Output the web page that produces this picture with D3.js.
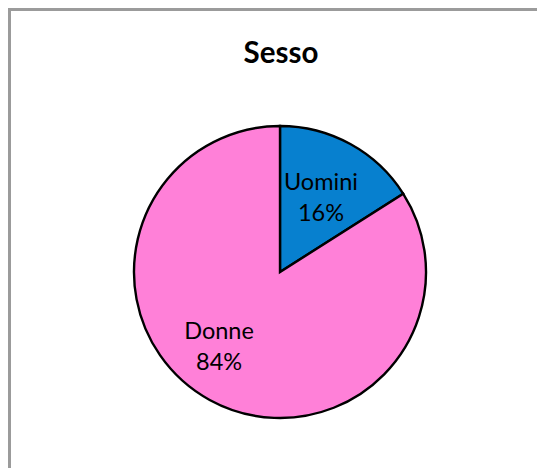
<!DOCTYPE html>
<html><head><meta charset="utf-8">
<script src="https://cdn.jsdelivr.net/npm/d3@7"></script>
<style>body{margin:0;background:#fff}svg{display:block}</style>
</head><body>
<script>
const title = "Sesso";
const categories = ["Uomini", "Donne"];
const values = [16, 84];
const colors = ["#0780CF", "#FF80D8"];

const W = 537, H = 468;
const svg = d3.select("body").append("svg").attr("width", W).attr("height", H);

svg.append("rect").attr("x", 9.5).attr("y", 9.5).attr("width", W + 20).attr("height", H + 20)
  .attr("fill", "#fff").attr("stroke", "#9b9b9b").attr("stroke-width", 3);

svg.append("text").attr("x", 281).attr("y", 63).attr("text-anchor", "middle")
  .attr("font-family", "Lato").attr("font-weight", "bold").attr("font-size", 29.5).attr("fill", "#000")
  .text(title);

const cx = 280, cy = 272, R = 146;
const data = categories.map((c, i) => ({ name: c, value: values[i], color: colors[i] }));
const pie = d3.pie().sort(null).value(d => d.value);
const arcs = pie(data);
const arc = d3.arc().innerRadius(0).outerRadius(R);
const g = svg.append("g").attr("transform", `translate(${cx},${cy})`);
g.selectAll("path").data(arcs).join("path")
  .attr("d", arc).attr("fill", d => d.data.color)
  .attr("stroke", "#000").attr("stroke-width", 2.4).attr("stroke-linejoin", "miter");

const total = d3.sum(values);
const labelR = [85, 85];
const labelShift = [[0, -1], [-20, 0]];
arcs.forEach((a, i) => {
  const la = d3.arc().innerRadius(labelR[i]).outerRadius(labelR[i]);
  const [x, y] = la.centroid(a);
  const t = g.append("text").attr("text-anchor", "middle")
    .attr("font-family", "Lato").attr("font-size", 23.5).attr("fill", "#000");
  t.append("tspan").attr("x", x + labelShift[i][0]).attr("y", y + labelShift[i][1] - 7).text(a.data.name);
  t.append("tspan").attr("x", x + labelShift[i][0]).attr("y", y + labelShift[i][1] + 24)
    .text(Math.round(a.data.value / total * 100) + "%");
});
</script>
</body></html>
